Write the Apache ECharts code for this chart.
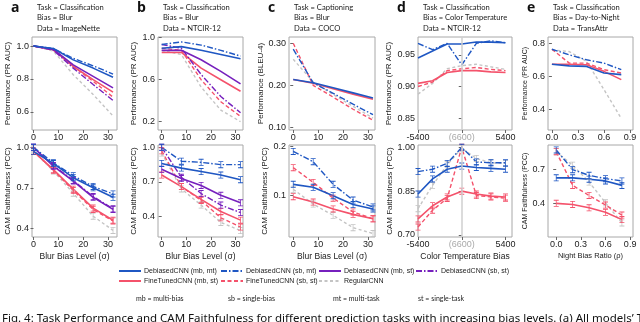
<!DOCTYPE html>
<html>
<head>
<meta charset="utf-8">
<script src="https://cdn.jsdelivr.net/npm/echarts@6/dist/echarts.min.js"></script>
<style>
html, body { margin: 0; padding: 0; background: #fff; }
#chart { width: 640px; height: 322px; }
</style>
</head>
<body>
<div id="chart"></div>
<script>
// x values of each panel
var blurX = [0, 8, 16, 24, 32];
var tempX = [-5400, -3600, -1800, 0, 1800, 3600, 5400];
var nightX = [0, 0.2, 0.4, 0.6, 0.8];

// series names, rows of every panel follow this order
var seriesNames = ['DebiasedCNN (mb, mt)', 'DebiasedCNN (sb, mt)', 'DebiasedCNN (mb, st)', 'DebiasedCNN (sb, st)',
    'FineTunedCNN (mb, st)', 'FineTunedCNN (sb, st)', 'RegularCNN'];

// a: classification / blur / ImageNette
var perfA = [
    [1.0, 0.985, 0.916, 0.866, 0.81],
    [1.0, 0.985, 0.925, 0.88, 0.83],
    [1.0, 0.98, 0.886, 0.816, 0.746],
    [1.0, 0.975, 0.866, 0.766, 0.67],
    [1.0, 0.98, 0.876, 0.796, 0.72],
    [1.0, 0.975, 0.876, 0.786, 0.69],
    [1.0, 0.97, 0.826, 0.706, 0.575]
];
var pccA = [
    [0.97, 0.88, 0.775, 0.70, 0.63],
    [1.0, 0.885, 0.79, 0.71, 0.655],
    [1.0, 0.86, 0.75, 0.63, 0.54],
    [1.0, 0.865, 0.755, 0.635, 0.545],
    [0.97, 0.835, 0.69, 0.55, 0.46],
    [0.97, 0.83, 0.68, 0.54, 0.455],
    [0.97, 0.825, 0.66, 0.49, 0.385]
];
// b: classification / blur / NTCIR-12
var perfB = [
    [0.90, 0.915, 0.88, 0.84, 0.80],
    [0.936, 0.96, 0.93, 0.88, 0.825],
    [0.88, 0.88, 0.79, 0.68, 0.56],
    [0.936, 0.90, 0.65, 0.44, 0.285],
    [0.86, 0.86, 0.71, 0.60, 0.49],
    [0.90, 0.88, 0.60, 0.39, 0.25],
    [0.88, 0.84, 0.53, 0.31, 0.20]
];
var pccB = [
    [0.86, 0.82, 0.79, 0.76, 0.72],
    [1.0, 0.88, 0.87, 0.85, 0.85],
    [0.81, 0.73, 0.67, 0.585, 0.52],
    [1.0, 0.74, 0.60, 0.50, 0.435],
    [0.76, 0.66, 0.55, 0.445, 0.37],
    [0.97, 0.66, 0.54, 0.39, 0.31],
    [0.95, 0.64, 0.50, 0.35, 0.28]
];
// c: captioning / blur / COCO
var perfC = [
    [0.214, 0.206, 0.194, 0.182, 0.17],
    [0.286, 0.206, 0.181, 0.155, 0.13],
    null, null,
    [0.214, 0.205, 0.192, 0.179, 0.167],
    [0.30, 0.20, 0.172, 0.143, 0.117],
    [0.262, 0.208, 0.178, 0.150, 0.122]
];
var pccC = [
    [0.123, 0.117, 0.10, 0.082, 0.073],
    [0.19, 0.169, 0.123, 0.091, 0.077],
    null, null,
    [0.098, 0.087, 0.073, 0.062, 0.053],
    [0.157, 0.127, 0.095, 0.067, 0.053],
    [0.113, 0.083, 0.06, 0.035, 0.023]
];
// d: classification / color temperature / NTCIR-12
var perfD = [
    [0.945, 0.956, 0.967, 0.967, 0.97, 0.97, 0.969],
    [0.968, 0.958, 0.968, 0.934, 0.968, 0.972, 0.969],
    null, null,
    [0.905, 0.909, 0.922, 0.925, 0.925, 0.923, 0.922],
    [0.900, 0.907, 0.925, 0.928, 0.93, 0.927, 0.925],
    [0.888, 0.905, 0.928, 0.933, 0.935, 0.931, 0.927]
];
var pccD = [
    [0.84, 0.892, 0.925, 0.936, 0.931, 0.928, 0.925],
    [0.917, 0.925, 0.945, 1.0, 0.95, 0.947, 0.947],
    null, null,
    [0.755, 0.80, 0.83, 0.85, 0.84, 0.833, 0.83],
    [0.727, 0.785, 0.825, 1.0, 0.835, 0.83, 0.826],
    [0.79, 0.87, 0.94, 0.997, 0.962, 0.947, 0.945]
];
// e: classification / day-to-night / TransAttr
var perfE = [
    [0.673, 0.663, 0.66, 0.62, 0.61],
    [0.764, 0.73, 0.70, 0.68, 0.64],
    null, null,
    [0.673, 0.673, 0.67, 0.63, 0.58],
    [0.764, 0.68, 0.68, 0.64, 0.62],
    [0.76, 0.75, 0.69, 0.52, 0.345]
];
var pccE = [
    [0.627, 0.627, 0.615, 0.60, 0.56],
    [0.876, 0.70, 0.65, 0.62, 0.60],
    null, null,
    [0.40, 0.39, 0.36, 0.32, 0.255],
    [0.86, 0.56, 0.47, 0.385, 0.295],
    [0.86, 0.74, 0.59, 0.405, 0.225]
];

// tick labels
var blurTicks = [0, 10, 20, 30];
var tempTicks = [-5400, 0, 5400];
var nightTicks = [0, 0.3, 0.6, 0.9];

var panelLetters = ['a', 'b', 'c', 'd', 'e'];
var panelInfo = [
    ['Task = Classification', 'Bias = Blur', 'Data = ImageNette'],
    ['Task = Classification', 'Bias = Blur', 'Data = NTCIR-12'],
    ['Task = Captioning', 'Bias = Blur', 'Data = COCO'],
    ['Task = Classification', 'Bias = Color Temperature', 'Data = NTCIR-12'],
    ['Task = Classification', 'Bias = Day-to-Night', 'Data = TransAttr']
];
var abbrevs = ['mb = multi-bias', 'sb = single-bias', 'mt = multi-task', 'st = single-task'];
var caption = 'Fig. 4: Task Performance and CAM Faithfulness for different prediction tasks with increasing bias levels. (a) All models\u2019 Task';

var BLUE = '#1f57c3', PURPLE = '#7620bd', RED = '#f4526b', GRAY = '#c4c4c4';
var styles = [
    {color: BLUE, type: 'solid', w: 1.6},
    {color: BLUE, type: [6, 2, 1.5, 2], w: 1.4},
    {color: PURPLE, type: 'solid', w: 1.6},
    {color: PURPLE, type: [6, 2, 1.5, 2], w: 1.4},
    {color: RED, type: 'solid', w: 1.6},
    {color: RED, type: [4, 2.5], w: 1.4},
    {color: GRAY, type: [3, 2.5], w: 1.4}
];
var errBar = 'path://M0,0H10V1.5H5.75V10.5H10V12H0V10.5H4.25V1.5H0Z';

var panels = [
    {box: [32, 37, 85, 93], x: blurX, rows: perfA, xr: [-0.6, 33.6], yr: [0.49, 1.055], yt: [0.6, 0.8, 1.0], xt: blurTicks, yd: 1, yName: 'Performance (PR AUC)', gap: 20},
    {box: [158, 37, 85, 93], x: blurX, rows: perfB, xr: [-1.5, 33], yr: [0.121, 1.007], yt: [0.2, 0.6, 1.0], xt: blurTicks, yd: 1, yName: 'Performance (PR AUC)', gap: 20},
    {box: [289, 37, 86, 93], x: blurX, rows: perfC, xr: [-1.7, 32.8], yr: [0.0936, 0.315], yt: [0.1, 0.2, 0.3], xt: blurTicks, yd: 2, yName: 'Performance (BLEU-4)', gap: 24},
    {box: [418, 37, 94, 93], x: tempX, rows: perfD, xr: [-5400, 6200], yr: [0.8315, 0.978], yt: [0.85, 0.9, 0.95], xt: tempTicks, yd: 2, yName: 'Performance (PR AUC)', gap: 25, vline: true},
    {box: [548, 37, 85, 93], x: nightX, rows: perfE, xr: [-0.045, 0.935], yr: [0.275, 0.838], yt: [0.4, 0.6, 0.8], xt: nightTicks, yd: 1, yName: 'Performance (PR AUC)', gap: 17, small: true},
    {box: [32, 145, 85, 92], x: blurX, rows: pccA, xr: [-0.6, 33.6], yr: [0.336, 1.017], yt: [0.4, 0.7, 1.0], xt: blurTicks, yd: 1, yName: 'CAM Faithfulness (PCC)', gap: 20, bottom: true, xName: 'Blur Bias Level (\u03c3)'},
    {box: [158, 145, 85, 92], x: blurX, rows: pccB, xr: [-1.5, 33], yr: [0.224, 1.02], yt: [0.4, 0.7, 1.0], xt: blurTicks, yd: 1, yName: 'CAM Faithfulness (PCC)', gap: 20, bottom: true, xName: 'Blur Bias Level (\u03c3)'},
    {box: [289, 145, 86, 92], x: blurX, rows: pccC, xr: [-1.7, 32.8], yr: [0.016, 0.203], yt: [0.1, 0.2], xt: blurTicks, yd: 1, yName: 'CAM Faithfulness (PCC)', gap: 20, bottom: true, xName: 'Blur Bias Level (\u03c3)'},
    {box: [418, 145, 94, 92], x: tempX, rows: pccD, xr: [-5400, 6200], yr: [0.693, 1.008], yt: [0.7, 0.85, 1.0], xt: tempTicks, yd: 2, yName: 'CAM Faithfulness (PCC)', gap: 24, bottom: true, xName: 'Color Temperature Bias', vline: true},
    {box: [548, 145, 85, 92], x: nightX, rows: pccE, xr: [-0.1, 0.935], yr: [0.1, 0.92], yt: [0.4, 0.7], xt: nightTicks, yd: 1, yName: 'CAM Faithfulness (PCC)', gap: 17, bottom: true, small: true, xName: 'Night Bias Ratio (\u03c1)'}
];

var FONT = 'Liberation Sans';
var grids = [], xAxes = [], yAxes = [], series = [];

panels.forEach(function (p, i) {
    grids.push({left: p.box[0], top: p.box[1], width: p.box[2], height: p.box[3],
        show: true, borderColor: '#a8a8a8', borderWidth: 1, backgroundColor: 'transparent'});
    xAxes.push({
        gridIndex: i, type: 'value', min: p.xr[0], max: p.xr[1],
        axisLine: {show: false}, splitLine: {show: false},
        axisTick: {customValues: p.xt, length: 3, lineStyle: {color: '#666'}},
        axisLabel: {customValues: p.xt, fontSize: 9, color: '#222', margin: 3, fontFamily: FONT,
            formatter: function (v) {
                if (p.x === tempX) return v === 0 ? '{g|(6600)}' : String(v);
                if (p.x === nightX) return v.toFixed(1);
                return String(v);
            },
            rich: {g: {color: '#aaa', fontSize: 9, fontFamily: FONT}}},
        name: p.xName || '', nameLocation: 'middle', nameGap: 15,
        nameTextStyle: {fontSize: p.small ? 7.5 : 8.5, color: '#222', fontFamily: FONT}
    });
    yAxes.push({
        gridIndex: i, type: 'value', min: p.yr[0], max: p.yr[1],
        axisLine: {show: false}, splitLine: {show: false},
        axisTick: {customValues: p.yt, length: 3, lineStyle: {color: '#666'}},
        axisLabel: {customValues: p.yt, fontSize: 9, color: '#222', margin: 3, fontFamily: FONT,
            formatter: function (v) { return v.toFixed(p.yd); }},
        name: p.yName, nameLocation: 'middle', nameGap: p.gap,
        nameTextStyle: {fontSize: p.small ? 7 : 8, color: '#222', fontFamily: FONT}
    });
    // draw gray first, blue last
    for (var k = seriesNames.length - 1; k >= 0; k--) {
        var vals = p.rows[k];
        if (!vals) continue;
        var st = styles[k];
        var s = {
            name: seriesNames[k], type: 'line', xAxisIndex: i, yAxisIndex: i,
            data: p.x.map(function (xv, j) { return [xv, vals[j]]; }),
            lineStyle: {color: st.color, type: st.type, width: st.w},
            itemStyle: {color: st.color},
            symbol: p.bottom ? errBar : 'none', symbolSize: [5, 7], symbolKeepAspect: false,
            showSymbol: !!p.bottom, silent: true, animation: false
        };
        series.push(s);
    }
    if (p.vline) {
        series.push({
            type: 'line', xAxisIndex: i, yAxisIndex: i, data: [], silent: true,
            markLine: {symbol: 'none', silent: true, label: {show: false},
                lineStyle: {color: '#cfcfcf', width: 1.5, type: 'solid'}, data: [{xAxis: 0}]},
            z: 1
        });
    }
});

var graphic = [];
panels.slice(0, 5).forEach(function (p, i) {
    graphic.push({type: 'text', left: p.box[0] - 21, top: 1,
        style: {text: panelLetters[i], font: 'bold 14px "Open Sans"', fill: '#111'}});
    graphic.push({type: 'text', left: p.box[0] + 5, top: 2,
        style: {text: panelInfo[i].join('\n'), font: '7.6px Lato', lineHeight: 10.5, fill: '#222'}});
});
var abbrevX = [136, 228, 333, 418];
abbrevs.forEach(function (t, i) {
    graphic.push({type: 'text', left: abbrevX[i], top: 295, style: {text: t, font: '7px Lato', fill: '#222'}});
});
graphic.push({type: 'text', left: 2, top: 313, style: {text: caption, font: '11.5px "Noto Sans"', fill: '#111'}});

function legendCol(left, names) {
    return {orient: 'vertical', left: left, top: 267, padding: 0, itemWidth: 22, itemHeight: 6, itemGap: 2,
        data: names, selectedMode: false, itemStyle: {opacity: 0},
        textStyle: {fontSize: 7, lineHeight: 8, color: '#222', fontFamily: FONT, padding: [0, 0, 0, -2]}};
}

var chart = echarts.init(document.getElementById('chart'));
chart.setOption({
    animation: false,
    grid: grids, xAxis: xAxes, yAxis: yAxes, series: series, graphic: graphic,
    legend: [
        legendCol(118, [seriesNames[0], seriesNames[4]]),
        legendCol(220, [seriesNames[1], seriesNames[5]]),
        legendCol(318, [seriesNames[2], seriesNames[6]]),
        legendCol(415, [seriesNames[3]])
    ]
});
</script>
</body>
</html>
